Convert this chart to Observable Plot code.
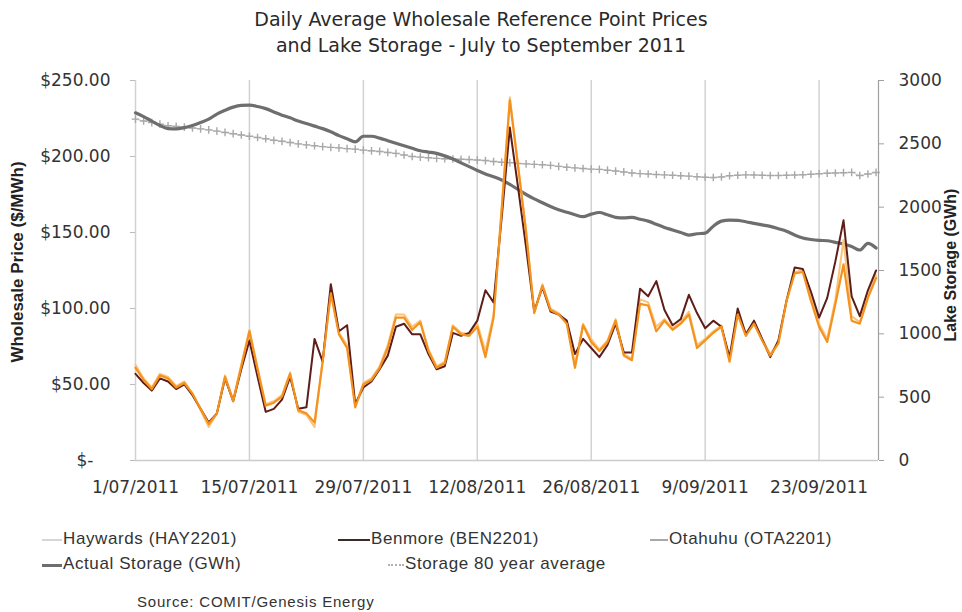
<!DOCTYPE html>
<html>
<head>
<meta charset="utf-8">
<script src="https://cdn.jsdelivr.net/npm/d3@7"></script>
<script src="https://cdn.jsdelivr.net/npm/@observablehq/plot@0.6"></script>
<style>
  html, body { margin: 0; padding: 0; background: #fff; }
  #wrap { position: relative; width: 962px; height: 612px; overflow: hidden; background: #fff; }
  .title { position: absolute; left: 0; width: 962px; text-align: center; font-family: "DejaVu Sans", sans-serif; font-size: 19px; color: #2a2a2a; }
  #chart { position: absolute; left: 0; top: 70px; }
  .leg { position: absolute; font-family: "Liberation Sans", Arial, sans-serif; font-size: 17px; letter-spacing: 0.6px; color: #333; white-space: nowrap; line-height: 20px; }
  .sw { position: absolute; height: 0; }
  .ytitle { position: absolute; font-family: "Liberation Sans", Arial, sans-serif; font-weight: bold; color: #222; white-space: nowrap; line-height: 1; transform: translate(-50%, -50%) rotate(-90deg); }
</style>
</head>
<body>
<div id="wrap">
  <div class="title" style="top:8px;">Daily Average Wholesale Reference Point Prices</div>
  <div class="title" style="top:34px;">and Lake Storage - July to September 2011</div>
  <div id="chart"></div>
  <div id="legend"></div>
  <div class="ytitle" id="ylabL" style="left:17px; top:262px; font-size:17px;"></div>
  <div class="ytitle" id="ylabR" style="left:951px; top:265px; font-size:16px;"></div>
</div>
<script>
// ---- data (daily, 1 July 2011 to 30 September 2011) ----
const startDate = "2011-07-01";
const haywards = [63,54,48,57,55,49,52,44,33,22,31,56,40,63,86,61,37,39,43,58,32,30,22,66,111,84,76,36,51,54,62,76,96,96,88,92,73,62,65,89,84,83,90,72,96,167,239,195,151,98,116,100,97,91,63,90,80,73,79,93,70,67,106,104,88,93,87,91,98,76,80,85,89,66,97,83,91,80,70,78,106,124,125,107,90,80,106,145,95,91,108,122];
const benmore  = [57,51,46,54,52,47,50,43,34,25,31,54,39,60,79,55,32,34,40,55,34,35,80,65,116,85,89,37,48,52,60,69,88,90,83,83,70,60,62,84,82,84,92,112,104,160,219,180,140,98,114,98,96,92,70,80,74,68,76,90,71,71,113,108,118,99,89,93,109,97,87,92,88,68,100,83,92,80,68,79,105,127,126,111,94,107,131,158,108,95,112,125];
const otahuhu  = [61,53,47,56,54,48,51,44,34,24,31,55,39,62,85,60,36,38,42,57,33,31,25,65,110,83,74,35,50,53,61,74,94,94,86,91,72,61,64,88,83,82,88,68,94,165,237,194,150,97,115,99,96,90,61,89,78,72,78,92,69,66,103,102,85,92,86,90,96,74,79,84,88,65,96,82,90,79,69,77,105,123,124,105,88,78,103,129,92,90,107,120];
const storageActual = [2745,2715,2680,2645,2620,2618,2628,2645,2668,2695,2735,2765,2790,2803,2805,2795,2778,2752,2726,2705,2680,2660,2640,2620,2595,2565,2540,2516,2560,2560,2545,2525,2505,2485,2465,2445,2435,2425,2405,2380,2350,2320,2290,2262,2240,2215,2180,2140,2100,2065,2035,2005,1980,1960,1940,1925,1945,1958,1940,1920,1915,1920,1905,1890,1865,1840,1820,1800,1780,1790,1795,1850,1890,1898,1895,1885,1872,1860,1848,1830,1810,1780,1756,1745,1738,1735,1722,1709,1690,1662,1714,1677];
const storageAvg = [2695,2680,2668,2655,2643,2638,2632,2625,2618,2610,2600,2590,2580,2570,2560,2550,2540,2528,2520,2510,2500,2492,2485,2478,2472,2468,2462,2458,2450,2445,2440,2432,2425,2412,2400,2395,2390,2385,2382,2380,2378,2376,2372,2368,2360,2355,2352,2345,2342,2338,2335,2330,2322,2315,2310,2305,2300,2298,2292,2285,2278,2270,2265,2262,2258,2255,2252,2248,2245,2240,2236,2234,2238,2248,2252,2255,2254,2252,2250,2250,2252,2254,2256,2260,2264,2268,2270,2272,2275,2250,2262,2274];
const xTickLabels = ["2011-07-01","2011-07-15","2011-07-29","2011-08-12","2011-08-26","2011-09-09","2011-09-23"];
const priceTicks = [0,50,100,150,200,250];
const storageTicks = [0,500,1000,1500,2000,2500,3000];
const seriesNames = ["Haywards (HAY2201)","Benmore (BEN2201)","Otahuhu (OTA2201)","Actual Storage (GWh)","Storage 80 year average"];
const axisTitles = ["Wholesale Price ($/MWh)", "Lake Storage (GWh)"];

// ---- build table ----
const DAY = 864e5;
const t0 = new Date(startDate + "T00:00:00Z").getTime();
const rows = haywards.map((v, i) => ({
  date: new Date(t0 + i * DAY),
  hay: v, ben: benmore[i], ota: otahuhu[i],
  act: storageActual[i], avg: storageAvg[i]
}));
const xTicks = xTickLabels.map(s => new Date(s + "T00:00:00Z"));
const xEnd = new Date(t0 + 91.3 * DAY);
const ratio = 3000 / 250; // right axis GWh per left axis $

const fmtDate = d3.utcFormat("%-d/%m/%Y");
const fmtPrice = v => v === 0 ? "$-\u2003" : "$" + v.toFixed(2);

const chart = Plot.plot({
  width: 962,
  height: 440,
  marginLeft: 135,
  marginRight: 84,
  marginTop: 10,
  marginBottom: 50,
  x: {type: "utc", domain: [new Date(t0), xEnd]},
  y: {domain: [0, 250]},
  style: {fontFamily: "DejaVu Sans, sans-serif", fontSize: "17px", color: "#333", background: "white"},
  marks: [
    Plot.ruleX(xTicks, {stroke: "#d2d2d2", strokeWidth: 1.5}),
    Plot.ruleY([0], {stroke: "#cccccc", strokeWidth: 1.5}),
    Plot.ruleX([xEnd], {stroke: "#a0a0a0", strokeWidth: 1.2}),
    Plot.axisX({ticks: xTicks, tickFormat: fmtDate, tickSize: 0, tickPadding: 20, label: null, fill: "#333"}),
    Plot.axisY({ticks: priceTicks, tickFormat: fmtPrice, tickSize: 5, tickPadding: 20, label: null, stroke: "#bbbbbb", fill: "#333"}),
    Plot.axisY(storageTicks.map(t => t / ratio), {anchor: "right", tickFormat: v => String(Math.round(v * ratio)), tickSize: 5, tickPadding: 15, label: null, stroke: "#a0a0a0", fill: "#333"}),
    // storage
    Plot.line(rows, {x: "date", y: d => d.avg / ratio, stroke: "#d4d4d4", strokeWidth: 1.2}),
    Plot.dot(rows, {x: "date", y: d => d.avg / ratio, symbol: "plus", r: 2.6, stroke: "#a8a8a8", strokeWidth: 1.4}),
    Plot.line(rows, {x: "date", y: d => d.act / ratio, stroke: "#6e6e6e", strokeWidth: 3.2, curve: "monotone-x"}),
    // prices
    Plot.line(rows, {x: "date", y: "hay", stroke: "#f9c47c", strokeWidth: 2}),
    Plot.line(rows, {x: "date", y: "ben", stroke: "#5e1d18", strokeWidth: 2}),
    Plot.line(rows, {x: "date", y: "ota", stroke: "#f5921e", strokeWidth: 2.2})
  ]
});
document.getElementById("chart").appendChild(chart);
document.getElementById("ylabL").textContent = axisTitles[0];
document.getElementById("ylabR").textContent = axisTitles[1];

// ---- legend ----
const legend = document.getElementById("legend");
const items = [
  {name: seriesNames[0], x: 42, y: 540, w: 20, color: "#d6d6d6", kind: "line"},
  {name: seriesNames[1], x: 338, y: 540, w: 32, color: "#3a2a2a", kind: "line"},
  {name: seriesNames[2], x: 650, y: 540, w: 18, color: "#a8a8a8", kind: "line"},
  {name: seriesNames[3], x: 42, y: 565, w: 20, color: "#6e6e6e", kind: "thick"},
  {name: seriesNames[4], x: 388, y: 565, w: 16, color: "#b0b0b0", kind: "dots"}
];
for (const it of items) {
  const sw = document.createElement("div");
  sw.className = "sw";
  sw.style.left = it.x + "px";
  sw.style.width = it.w + "px";
  if (it.kind === "dots") {
    sw.style.top = (it.y - 1) + "px";
    sw.style.borderTop = "2px dotted " + it.color;
  } else {
    const th = it.kind === "thick" ? 3 : 2;
    sw.style.top = (it.y - th / 2) + "px";
    sw.style.borderTop = th + "px solid " + it.color;
  }
  legend.appendChild(sw);
  const t = document.createElement("div");
  t.className = "leg";
  t.style.left = (it.x + it.w + 1) + "px";
  t.style.top = (it.y - 11) + "px";
  t.textContent = it.name;
  legend.appendChild(t);
}
const src = document.createElement("div");
src.className = "leg";
src.style.left = "137px";
src.style.top = "592px";
src.style.fontSize = "15px";
src.style.letterSpacing = "0.8px";
src.textContent = "Source: COMIT/Genesis Energy";
legend.appendChild(src);
</script>
</body>
</html>
